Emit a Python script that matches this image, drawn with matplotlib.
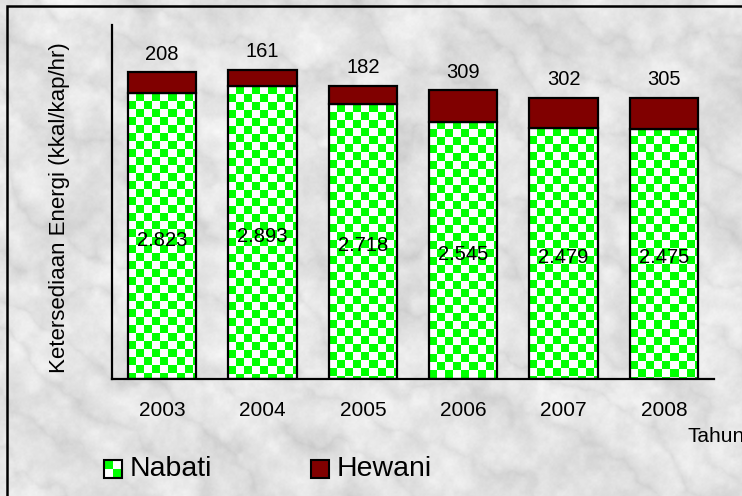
import numpy as np
import matplotlib
matplotlib.use("Agg")
import matplotlib.pyplot as plt
from matplotlib.patches import Rectangle

years = ["2003", "2004", "2005", "2006", "2007", "2008"]
nabati = [2823, 2893, 2718, 2545, 2479, 2475]
hewani = [208, 161, 182, 309, 302, 305]

GREEN = np.array([0, 255, 0]) / 255
WHITE = np.array([255, 255, 255]) / 255
MAROON = "#800000"
SANS = ["Liberation Sans", "DejaVu Sans"]
NARROW = ["Liberation Sans Narrow", "Liberation Sans", "DejaVu Sans"]

W, H = 742, 496
fig = plt.figure(figsize=(W / 100, H / 100), dpi=100)


# grey marble backdrop
def smooth_noise(rng, cell):
    gh, gw = H // cell + 2, W // cell + 2
    g = rng.random((gh, gw))
    yy = np.arange(H) / cell
    xx = np.arange(W) / cell
    y0 = yy.astype(int); x0 = xx.astype(int)
    fy = (yy - y0)[:, None]; fx = (xx - x0)[None, :]
    fy = fy * fy * (3 - 2 * fy); fx = fx * fx * (3 - 2 * fx)
    a = g[y0][:, x0]; b = g[y0][:, x0 + 1]
    c = g[y0 + 1][:, x0]; d = g[y0 + 1][:, x0 + 1]
    return (a * (1 - fx) + b * fx) * (1 - fy) + (c * (1 - fx) + d * fx) * fy


rng = np.random.default_rng(7)
turb = sum(smooth_noise(rng, c) / k for c, k in [(120, 1), (50, 2), (20, 4), (8, 8)])
Y, X = np.mgrid[0:H, 0:W]
veins = np.abs(np.sin((X * 0.03 - Y * 0.045) + turb * 4.0))
clouds = 0.45 * smooth_noise(rng, 45) + 0.35 * smooth_noise(rng, 16) + 0.2 * smooth_noise(rng, 6)
marble = 0.97 - 0.05 * (1 - veins) ** 2 - 0.16 * clouds + 0.02 * smooth_noise(rng, 2)
bg = fig.add_axes([0, 0, 1, 1], zorder=0)
bg.imshow(np.clip(marble, 0, 1), cmap="gray", vmin=0, vmax=1, aspect="auto", interpolation="bilinear")
bg.axis("off")

# frame round the figure
fig.patches.append(Rectangle((7.5 / W, -0.1), 1.2, 1.1 - 6 / H, transform=fig.transFigure,
                             fill=False, edgecolor="black", linewidth=1.8, zorder=5))

left, right, bottom, top = 112 / W, 714 / W, (H - 379) / H, (H - 25) / H
ax = fig.add_axes([left, bottom, right - left, top - bottom], zorder=1)
ax.patch.set_alpha(0)

ymax = 3500
x = np.arange(len(years))
width = 0.68
nab_bars = ax.bar(x, nabati, width, facecolor="none", edgecolor="black", linewidth=1.6, zorder=3)
hew_bars = ax.bar(x, hewani, width, bottom=nabati, color=MAROON, edgecolor="black", linewidth=1.6, zorder=3)

# green/white checker fill for the Nabati bars
sq = 8
ppu_x = W * (right - left) / len(years)
ppu_y = H * (top - bottom) / ymax
for rect in nab_bars:
    x0, w, h = rect.get_x(), rect.get_width(), rect.get_height()
    nx = int(np.ceil(w * ppu_x / sq)) + 1
    ny = int(np.ceil(h * ppu_y / sq)) + 1
    board = np.add.outer(np.arange(ny), np.arange(nx)) % 2
    img = np.where(board[..., None] == 0, WHITE, GREEN)
    im = ax.imshow(img, extent=(x0, x0 + nx * sq / ppu_x, h - ny * sq / ppu_y, h),
                   origin="upper", aspect="auto", interpolation="nearest", zorder=2)
    im.set_clip_path(rect)

for i in range(len(years)):
    ax.text(x[i], nabati[i] / 2 - 40, f"{nabati[i]:,}".replace(",", "."), ha="center", va="center",
            fontsize=14.5, family=NARROW, zorder=4)
    ax.text(x[i], nabati[i] + hewani[i] + 180, str(hewani[i]), ha="center", va="center",
            fontsize=14.5, family=NARROW, zorder=4)

ax.set_xlim(-0.5, len(years) - 0.5)
ax.set_ylim(0, ymax)
ax.set_xticks(x)
ax.set_xticklabels(years, fontsize=15, family=SANS)
ax.tick_params(axis="x", length=0, pad=16)
ax.set_yticks([])
for s in ["top", "right"]:
    ax.spines[s].set_visible(False)
for s in ["left", "bottom"]:
    ax.spines[s].set_linewidth(1.6)

fig.text(60 / W, 1 - 208 / H, "Ketersediaan Energi (kkal/kap/hr)", rotation=90,
         ha="center", va="center", fontsize=16, family=SANS)
fig.text(688 / W, 1 - 437 / H, "Tahun", ha="left", va="center", fontsize=15, family=SANS)

# legend
def legend_box(px, checker):
    s = 18
    y = H - 478
    if checker:
        for i in range(2):
            for j in range(2):
                c = GREEN if (i + j) % 2 == 0 else WHITE
                fig.patches.append(Rectangle(((px + j * s / 2) / W, (y + (1 - i) * s / 2) / H),
                                             s / 2 / W, s / 2 / H, transform=fig.transFigure,
                                             facecolor=c, edgecolor="none", zorder=3))
        fig.patches.append(Rectangle((px / W, y / H), s / W, s / H, transform=fig.transFigure,
                                     fill=False, edgecolor="black", linewidth=1.5, zorder=4))
    else:
        fig.patches.append(Rectangle((px / W, y / H), s / W, s / H, transform=fig.transFigure,
                                     facecolor=MAROON, edgecolor="black", linewidth=1.5, zorder=4))


legend_box(104, True)
fig.text(130 / W, 1 - 469 / H, "Nabati", ha="left", va="center", fontsize=20.5, family=SANS)
legend_box(311, False)
fig.text(337 / W, 1 - 469 / H, "Hewani", ha="left", va="center", fontsize=20.5, family=SANS)

fig.savefig("out.png", dpi=100)
